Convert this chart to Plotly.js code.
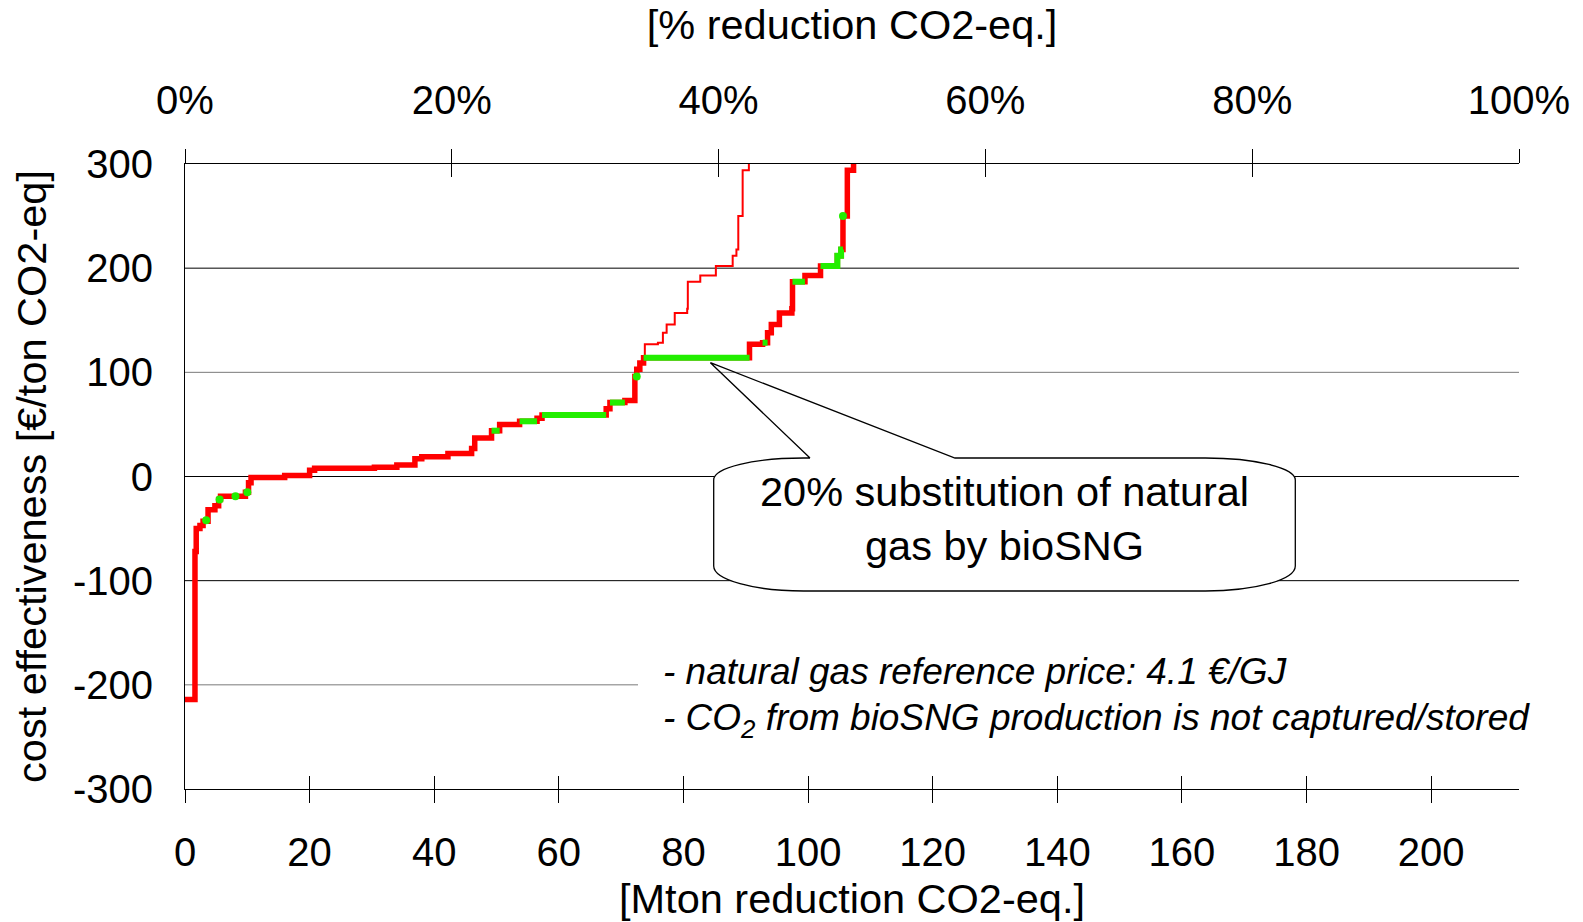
<!DOCTYPE html>
<html><head><meta charset="utf-8">
<script src="https://cdn.plot.ly/plotly-3.0.1.min.js"></script>
<style>html,body{margin:0;padding:0;background:#fff}#chart{width:1583px;height:922px}</style>
</head><body><div id="chart"></div>
<script>
// ---- data ----
// thick curve (with 20% bioSNG substitution): step start [Mton] and cost [EUR/t CO2-eq]
const curveX = [0, 1.6, 1.8, 2.4, 2.9, 3.7, 4.8, 5.4, 5.7, 9.7, 10.2, 10.6, 16, 20, 20.8, 30.4, 34, 36.9, 38, 42.2, 46, 46.5, 49.2, 50.5, 53.7, 56.5, 57.3, 67.6, 68.2, 70.6, 72.2, 72.5, 73.0, 73.6, 90.6, 92.7, 93.5, 94.1, 95.4, 97.4, 97.5, 99.5, 102.0, 104.7, 105.3, 105.6, 106.3, 107.3];
const curveY = [-214, -72, -50, -47, -43, -32, -28, -22, -19, -15, -6, -1, 1, 6, 8, 9, 11, 17, 19, 22, 27, 37, 44, 50, 53, 56, 59, 65, 71, 73, 96, 103, 109, 114, 127, 128.5, 138, 146, 157, 161, 187, 193, 202, 212, 218, 250, 294, 310];
// thin curve (without bioSNG substitution)
const thinX = [73.8, 73.8, 75.9, 76.7, 77.3, 78.6, 80.6, 80.7, 82.7, 85.2, 87.9, 88.5, 88.8, 89.5, 90.5];
const thinY = [114, 127, 128.5, 138, 146, 157, 161, 187, 193, 202, 212, 218, 250, 294, 310];
// green (bioSNG) segments
const greenX = [49.2, 50.5, null, 53.7, 56.5, null, 57.3, 67.6, null, 68.2, 70.6, null, 73.6, 90.6, null, 92.7, 93.5, null, 97.5, 99.5, null, 102.0, 104.7, 105.3, 105.6];
const greenY = [44, 44, null, 53, 53, null, 59, 59, null, 71, 71, null, 114, 114, null, 128.5, 128.5, null, 187, 187, null, 202, 212, 218, 218];
// small green options (dots)
const dotX = [3.4, 5.55, 8.1, 10.0, 72.5, 105.6];
const dotY = [-42, -22, -19, -15, 96, 250];
// axes
const mtonTicks = [0, 20, 40, 60, 80, 100, 120, 140, 160, 180, 200];
const pctTicks = [0, 20, 40, 60, 80, 100];
const pctLabels = ['0%', '20%', '40%', '60%', '80%', '100%'];
const costTicks = [-300, -200, -100, 0, 100, 200, 300];
const costLabels = ['-300', '-200', '-100', '0', '100', '200', '300'];
const gridVals = [200, 100, 0, -100];
const XMAX = 214.1;

// ---- layout geometry ----
const W = 1583, H = 922, ML = 185, MR = 64, MT = 164, MB = 133;
const PW = W - ML - MR, PH = H - MT - MB;
const FONT = 'Liberation Sans, Arial, Helvetica, sans-serif';
function px2x(px) { return (px - ML) / PW * XMAX; }
function py2y(py) { return 300 - (py - MT) / PH * 600; }
function P(px, py) { return px2x(px).toFixed(3) + ',' + py2y(py).toFixed(3); }

const RED = '#ff0000', GREEN = '#22ee00';

const traces = [
  {x: thinX, y: thinY, mode: 'lines', line: {shape: 'hv', color: RED, width: 2}, hoverinfo: 'skip'},
  {x: curveX, y: curveY, mode: 'lines', line: {shape: 'hv', color: RED, width: 5.5}, hoverinfo: 'skip'},
  {x: greenX, y: greenY, mode: 'lines', connectgaps: false, line: {shape: 'hv', color: GREEN, width: 6}, hoverinfo: 'skip'},
  {x: dotX, y: dotY, mode: 'markers', xaxis: 'x3', marker: {color: GREEN, size: 8}, hoverinfo: 'skip'},
  // empty traces so that the percentage axes are drawn
  {x: [], y: [], xaxis: 'x2', mode: 'lines', hoverinfo: 'skip'},
  {x: [], y: [], xaxis: 'x4', mode: 'lines', hoverinfo: 'skip'}
];

// callout geometry (pixels)
const bl = 713.7, br = 1295.3, bt = 458, bb = 591, rx = 90, ryT = 22, ryB = 25, k = 0.5523;
const tipX = 710.4, tipY = 362.7, pL = 810, pR = 955;
const around =
  `L${P(br - rx, bt)} C${P(br - rx + k * rx, bt)} ${P(br, bt + ryT - k * ryT)} ${P(br, bt + ryT)} ` +
  `L${P(br, bb - ryB)} C${P(br, bb - ryB + k * ryB)} ${P(br - rx + k * rx, bb)} ${P(br - rx, bb)} ` +
  `L${P(bl + rx, bb)} C${P(bl + rx - k * rx, bb)} ${P(bl, bb - ryB + k * ryB)} ${P(bl, bb - ryB)} ` +
  `L${P(bl, bt + ryT)} C${P(bl, bt + ryT - k * ryT)} ${P(bl + rx - k * rx, bt)} ${P(bl + rx, bt)} `;
const boxPath = `M${P(bl + rx, bt)} ` + around + 'Z';
const outlinePath = `M${P(pL, bt)} L${P(tipX, tipY)} L${P(pR, bt)} ` + around + `L${P(pL, bt)}`;

const shapes = [];
gridVals.forEach(v => {
  shapes.push({type: 'line', layer: 'below', xref: 'x', yref: 'y', x0: 0, x1: v === 0 ? px2x(1524) : XMAX, y0: v, y1: v,
    line: {color: v === 100 ? '#7a7a7a' : '#000', width: 1}});
});
shapes.push({type: 'line', layer: 'below', xref: 'x', yref: 'y', x0: 0, x1: px2x(638), y0: -200, y1: -200,
  line: {color: '#7a7a7a', width: 1}});
shapes.push({type: 'path', xref: 'x', yref: 'y', path: boxPath, fillcolor: '#fff', line: {width: 0}});
shapes.push({type: 'path', xref: 'x', yref: 'y', path: outlinePath, fillcolor: 'rgba(0,0,0,0)', line: {color: '#000', width: 1.3}});

const tf = {family: FONT, size: 40, color: '#000'};
const titleF = {family: FONT, size: 41.5, color: '#000'};

const layout = {
  width: W, height: H,
  margin: {l: ML, r: MR, t: MT, b: MB, pad: 0},
  paper_bgcolor: '#fff', plot_bgcolor: 'rgba(0,0,0,0)',
  showlegend: false,
  font: {family: FONT, color: '#000'},
  xaxis: {range: [0, XMAX], tickvals: mtonTicks, ticks: 'outside', ticklen: 13, tickcolor: '#000', tickwidth: 1,
    showline: true, linecolor: '#000', linewidth: 1, showgrid: false, zeroline: false,
    tickfont: tf, ticklabelstandoff: 15, automargin: false,
    title: {text: '[Mton reduction CO2-eq.]', font: titleF, standoff: 20}},
  xaxis2: {overlaying: 'x', side: 'top', anchor: 'y', range: [0, 100], tickvals: pctTicks, ticktext: pctLabels,
    ticks: 'outside', ticklen: 14, tickcolor: '#000', tickwidth: 1,
    showline: true, linecolor: '#000', linewidth: 1, showgrid: false, zeroline: false,
    tickfont: tf, ticklabelstandoff: 19, automargin: false,
    title: {text: '[% reduction CO2-eq.]', font: titleF, standoff: 25}},
  xaxis3: {overlaying: 'x', side: 'bottom', anchor: 'y', range: [0, XMAX], tickvals: mtonTicks, ticks: 'inside', ticklen: 13,
    tickcolor: '#000', tickwidth: 1, showticklabels: false, showline: false, showgrid: false, zeroline: false},
  xaxis4: {overlaying: 'x', side: 'top', anchor: 'y', range: [0, 100], tickvals: pctTicks, ticks: 'inside', ticklen: 13,
    tickcolor: '#000', tickwidth: 1, showticklabels: false, showline: false, showgrid: false, zeroline: false},
  yaxis: {range: [-300, 300], tickvals: costTicks, ticktext: costLabels, ticks: '', showline: true, linecolor: '#000', linewidth: 1,
    showgrid: false, zeroline: false, tickfont: tf, ticklabelstandoff: 23, automargin: false,
    title: {text: 'cost effectiveness [€/ton CO2-eq]', font: titleF, standoff: 13}},
  shapes: shapes,
  annotations: [
    {xref: 'x', yref: 'y', x: px2x(1004.5), y: py2y(518), text: '20% substitution of natural<br>gas by bioSNG',
      showarrow: false, font: {family: FONT, size: 41.5, color: '#000'}, xanchor: 'center', yanchor: 'middle'},
    {xref: 'paper', yref: 'paper', x: (661 - ML) / PW, y: (H - MB - 671) / PH, xanchor: 'left', yanchor: 'middle',
      text: '<i>- natural gas reference price: 4.1 €/GJ</i>', showarrow: false, font: {family: FONT, size: 37, color: '#000'}},
    {xref: 'paper', yref: 'paper', x: (661 - ML) / PW, y: (H - MB - 720) / PH, xanchor: 'left', yanchor: 'middle',
      text: '<i>- CO<sub>2</sub> from bioSNG production is not captured/stored</i>', showarrow: false,
      font: {family: FONT, size: 37, color: '#000'}}
  ]
};

Plotly.newPlot('chart', traces, layout, {staticPlot: true, displayModeBar: false});
</script>
</body></html>
